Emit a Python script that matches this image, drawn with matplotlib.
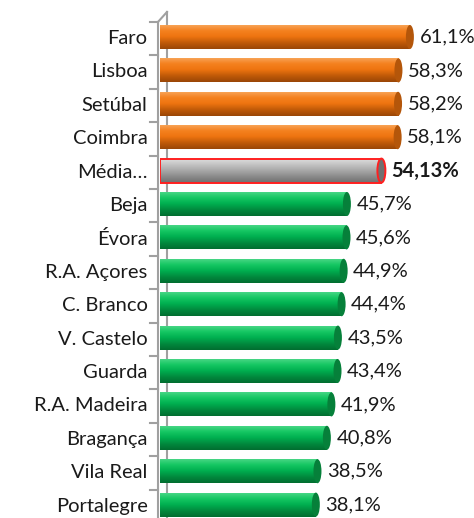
import numpy as np
import matplotlib
matplotlib.use("Agg")
import matplotlib.pyplot as plt
from matplotlib.patches import Ellipse
from matplotlib.colors import LinearSegmentedColormap

categories = ["Faro", "Lisboa", "Setúbal", "Coimbra", "Média…", "Beja", "Évora",
              "R.A. Açores", "C. Branco", "V. Castelo", "Guarda", "R.A. Madeira",
              "Bragança", "Vila Real", "Portalegre"]
values = [61.1, 58.3, 58.2, 58.1, 54.13, 45.7, 45.6, 44.9, 44.4, 43.5, 43.4, 41.9,
          40.8, 38.5, 38.1]
value_labels = ["61,1%", "58,3%", "58,2%", "58,1%", "54,13%", "45,7%", "45,6%",
                "44,9%", "44,4%", "43,5%", "43,4%", "41,9%", "40,8%", "38,5%", "38,1%"]
groups = ["top"] * 4 + ["avg"] + ["low"] * 10

palettes = {
    "top": (["#F8A85E", "#F58220", "#EE7410", "#C05A08", "#9A4606"], "#B4560A", "#F07A14"),
    "low": (["#4FD88A", "#17C864", "#00B050", "#028A3E", "#016E30"], "#06803A", "#00B050"),
    "avg": (["#E0E0E0", "#C4C4C4", "#A8A8A8", "#8A8A8A", "#707070"], "#707070", "#A8A8A8"),
}

plt.rcParams['font.family'] = ['Lato', 'DejaVu Sans']
W, H = 474, 518
fig = plt.figure(figsize=(W / 100, H / 100), dpi=100)
top_px, row = 20.3, 33.4
n = len(categories)
bottom_px = top_px + row * n
ax = fig.add_axes([160 / W, 1 - bottom_px / H, 1 - 160 / W, (bottom_px - top_px) / H])
px_per_unit = 4.09
xmax = (W - 160) / px_per_unit
ax.set_xlim(0, xmax)
ax.set_ylim(n - 0.5, -0.5)

bh = 0.72
cap_w = 8 / px_per_unit
for i, (v, g) in enumerate(zip(values, groups)):
    cols, capc, base = palettes[g]
    cmap = LinearSegmentedColormap.from_list(g, cols)
    bars = ax.barh(i, v, height=bh, color=base, edgecolor="none", zorder=3)
    patch = bars[0]
    grad = np.linspace(0, 1, 64).reshape(-1, 1)
    im = ax.imshow(grad, cmap=cmap, aspect="auto", extent=(0, v, i + bh / 2, i - bh / 2),
                   zorder=4, interpolation="bicubic")
    im.set_clip_path(patch)
    if g == "avg":
        ax.barh(i, v, height=bh, facecolor="none", edgecolor="#FF2020", linewidth=1.4, zorder=5)
    ax.add_patch(Ellipse((v, i), width=cap_w, height=bh, facecolor=capc,
                         edgecolor=("#FF2020" if g == "avg" else "none"),
                         linewidth=1.4, zorder=6))
    fw = "bold" if g == "avg" else "normal"
    ax.annotate(value_labels[i], (v + cap_w / 2, i), xytext=(4, 0), textcoords="offset points",
                va="center", ha="left", fontsize=14.5, fontweight=fw, color="#1a1a1a", zorder=7)

ax.set_yticks(range(n))
ax.set_yticklabels(categories, fontsize=14.5, color="#1a1a1a")
ax.tick_params(axis="y", length=0, pad=9)
ax.set_xticks([])
for s in ax.spines.values():
    s.set_visible(False)

# axis wall lines
xf = -0.5
xb = 7 / px_per_unit
ax.plot([xf, xf], [-0.5 + 0.05, n], color="#A0A0A0", lw=1.5, clip_on=False, zorder=8)
ax.plot([xb, xb], [-0.75, n], color="#A0A0A0", lw=1.5, clip_on=False, zorder=1)
ax.plot([xf, xb], [-0.45, -0.75], color="#A0A0A0", lw=1.5, clip_on=False, zorder=8)
for k in range(n + 1):
    yk = k - 0.5
    ax.plot([xf - 8 / px_per_unit, xf], [yk + 0.05, yk + 0.05], color="#A0A0A0", lw=1.5,
            clip_on=False, zorder=8)

fig.savefig("out.png", dpi=100)
